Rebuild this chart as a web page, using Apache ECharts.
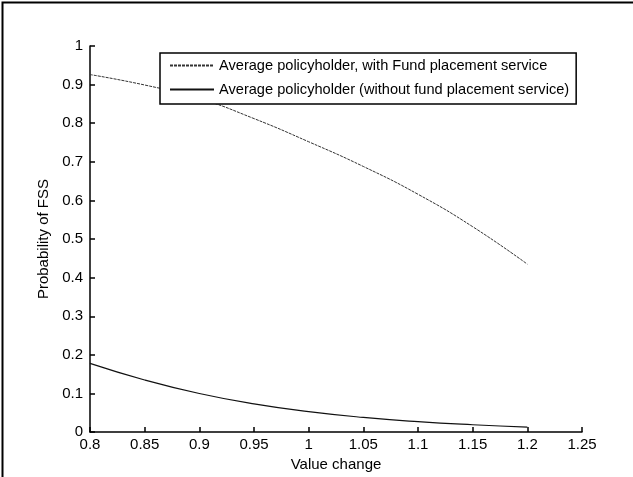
<!DOCTYPE html>
<html>
<head>
<meta charset="utf-8">
<script src="https://cdn.jsdelivr.net/npm/echarts@6/dist/echarts.min.js"></script>
<style>html,body{margin:0;padding:0;background:#fff}#c{width:633px;height:477px}</style>
</head>
<body>
<div id="c"></div>
<script>
var valueChange = [0.8, 0.85, 0.9, 0.95, 1.0, 1.05, 1.1, 1.15, 1.2];
var withFund = [0.926, 0.899, 0.864, 0.812, 0.752, 0.688, 0.616, 0.532, 0.435];
var withoutFund = [0.178, 0.135, 0.1, 0.073, 0.053, 0.038, 0.027, 0.019, 0.013];
var seriesNames = ['Average policyholder, with Fund placement service', 'Average policyholder (without fund placement service)'];
var xTicks = [0.8, 0.85, 0.9, 0.95, 1, 1.05, 1.1, 1.15, 1.2, 1.25];

function pairs(xs, ys) { return xs.map(function (x, i) { return [x, ys[i]]; }); }

var font = 'Liberation Sans, Arial, sans-serif';
var chart = echarts.init(document.getElementById('c'));
chart.setOption({
  animation: false,
  backgroundColor: '#fff',
  grid: { left: 90, right: 51, top: 46, bottom: 41 },
  legend: {
    left: 160, top: 53, orient: 'vertical',
    itemWidth: 44, itemHeight: 14, itemGap: 9,
    padding: [5, 7, 7, 9],
    borderColor: '#000', borderWidth: 1.5, backgroundColor: '#fff',
    itemStyle: { opacity: 0 },
    textStyle: { fontFamily: font, fontSize: 14.6, color: '#000' },
    data: seriesNames
  },
  xAxis: {
    type: 'value', min: 0.8, max: 1.25, interval: 0.05,
    name: 'Value change', nameLocation: 'middle', nameGap: 23,
    nameTextStyle: { fontFamily: font, fontSize: 15, color: '#000' },
    axisLine: { lineStyle: { color: '#000', width: 1.5 } },
    axisTick: { inside: true, length: 5, lineStyle: { color: '#000', width: 1.5 } },
    axisLabel: { margin: 5, fontFamily: font, fontSize: 15, color: '#000',
      formatter: function (v) { var r = Math.round(v * 100) / 100; return xTicks.indexOf(r) >= 0 ? String(r) : ''; } },
    splitLine: { show: false }
  },
  yAxis: {
    type: 'value', min: 0, max: 1, interval: 0.1,
    name: 'Probability of FSS', nameLocation: 'middle', nameGap: 36,
    nameTextStyle: { fontFamily: font, fontSize: 15, color: '#000' },
    axisLine: { show: true, lineStyle: { color: '#000', width: 1.5 } },
    axisTick: { show: true, inside: true, length: 5, lineStyle: { color: '#000', width: 1.5 } },
    axisLabel: { margin: 7, fontFamily: font, fontSize: 15, color: '#000',
      formatter: function (v) { return String(Math.round(v * 10) / 10); } },
    splitLine: { show: false }
  },
  series: [
    { name: seriesNames[0], type: 'line', smooth: true, symbol: 'none',
      lineStyle: { color: '#333', width: 1, type: [3, 1] },
      data: pairs(valueChange, withFund) },
    { name: seriesNames[1], type: 'line', smooth: true, symbol: 'none',
      lineStyle: { color: '#111', width: 1.2 },
      data: pairs(valueChange, withoutFund) }
  ],
  graphic: [
    { type: 'rect', left: 0, top: 0, shape: { x: 4, y: 6, width: 640, height: 480 },
      style: { fill: 'none', stroke: '#000', lineWidth: 2 }, silent: true }
  ]
});
</script>
</body>
</html>
